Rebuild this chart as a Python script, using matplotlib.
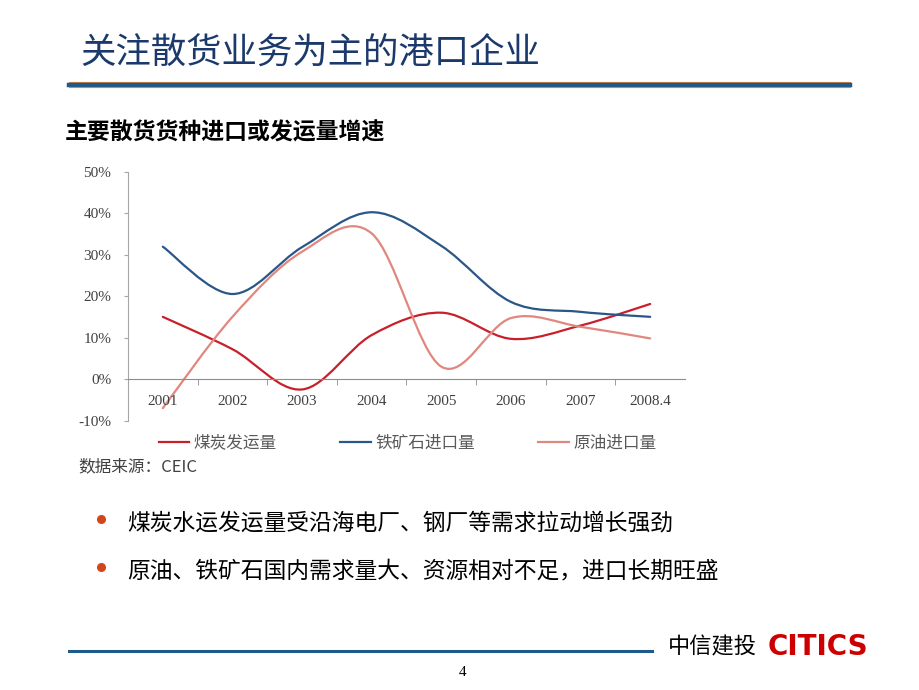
import numpy as np
import matplotlib
matplotlib.use("Agg")
import matplotlib.pyplot as plt
from matplotlib.path import Path
from matplotlib.patches import PathPatch
from matplotlib.lines import Line2D
import matplotlib.ticker as mtick

plt.rcParams['font.family'] = ['Noto Sans CJK SC', 'DejaVu Sans']
plt.rcParams['axes.unicode_minus'] = False

# data (growth rates)
years = ['2001', '2002', '2003', '2004', '2005', '2006', '2007', '2008.4']
coal = [0.151, 0.073, -0.024, 0.107, 0.161, 0.098, 0.130, 0.182]
iron = [0.320, 0.206, 0.319, 0.403, 0.322, 0.187, 0.163, 0.151]
oil = [-0.069, 0.151, 0.308, 0.352, 0.031, 0.148, 0.127, 0.099]
names = ['煤炭发运量', '铁矿石进口量', '原油进口量']
colors = ['#C8202A', '#2A5688', '#E0877F']

W, H = 920, 690
fig = plt.figure(figsize=(9.2, 6.9), dpi=100)


def fx(x):
    return x / W


def fy(y):
    return 1 - y / H


def smooth(xs, ys):
    # excel-like smoothed line: cubic bezier through the points
    n = len(xs)
    verts = [(xs[0], ys[0])]
    codes = [Path.MOVETO]
    for i in range(n - 1):
        a = max(i - 1, 0)
        d = min(i + 2, n - 1)
        c1 = (xs[i] + (xs[i + 1] - xs[a]) / 6, ys[i] + (ys[i + 1] - ys[a]) / 6)
        c2 = (xs[i + 1] - (xs[d] - xs[i]) / 6, ys[i + 1] - (ys[d] - ys[i]) / 6)
        verts += [c1, c2, (xs[i + 1], ys[i + 1])]
        codes += [Path.CURVE4] * 3
    return Path(verts, codes)


# title + header rule
fig.text(fx(80), fy(54), '关注散货业务为主的港口企业', fontsize=25.5, color='#1B3A6B',
         va='center', ha='left', fontweight='light')
fig.add_artist(Line2D([fx(69), fx(850)], [fy(82.3), fy(82.3)], color='#D8853A', lw=0.8))
fig.add_artist(Line2D([fx(69), fx(850)], [fy(84.5), fy(84.5)], color='#1F5A8C', lw=3.2))
fig.add_artist(Line2D([fx(69), fx(850)], [fy(86.8), fy(86.8)], color='#D8853A', lw=0.8))

fig.text(fx(65), fy(133), '主要散货货种进口或发运量增速', fontsize=16.5, fontweight='bold',
         color='black', va='center', ha='left')

# chart
ax = fig.add_axes([fx(128), fy(421), (685 - 128) / W, (421 - 172) / H])
x = np.arange(len(years))
for vals, c, nm in zip([coal, iron, oil], colors, names):
    ax.add_patch(PathPatch(smooth(x, vals), facecolor='none', edgecolor=c, lw=1.6,
                           capstyle='round'))
ax.set_xlim(-0.5, len(years) - 0.5)
ax.set_ylim(-0.10, 0.50)
ax.yaxis.set_major_locator(mtick.MultipleLocator(0.10))
ax.yaxis.set_major_formatter(mtick.PercentFormatter(1.0, decimals=0))
ax.set_xticks(x)
ax.set_xticklabels(years)
ax.set_xticks(np.arange(0.5, len(years) - 0.5, 1.0), minor=True)

for s in ['top', 'right']:
    ax.spines[s].set_visible(False)
ax.spines['bottom'].set_position(('data', 0))
ax.spines['bottom'].set_color('#8C8C8C')
ax.spines['left'].set_color('#A6A6A6')
ax.tick_params(axis='x', which='major', length=0, pad=11)
ax.tick_params(axis='x', which='minor', length=4, color='#8C8C8C', direction='out')
ax.tick_params(axis='y', length=3, color='#A6A6A6', pad=9)
for lab in ax.get_xticklabels() + ax.get_yticklabels():
    lab.set_family(['Liberation Serif', 'DejaVu Serif'])
    lab.set_fontsize(11)
    lab.set_color('#404040')

handles = [Line2D([], [], color=c, lw=1.6) for c in colors]
fig.legend(handles, names, loc='center', bbox_to_anchor=(fx(407.5), fy(443)), ncol=3,
           frameon=False, fontsize=12, handlelength=1.85, handletextpad=0.25,
           columnspacing=3.8, labelcolor='#595959')

fig.text(fx(78), fy(467), '数据来源：CEIC', fontsize=12, style='italic', color='#404040',
         va='center', ha='left')

# bullets
bullets = ['煤炭水运发运量受沿海电厂、钢厂等需求拉动增长强劲',
           '原油、铁矿石国内需求量大、资源相对不足，进口长期旺盛']
for yy, txt in zip([523, 571], bullets):
    fig.add_artist(Line2D([fx(101)], [fy(yy - 4)], marker='o', markersize=5.5,
                          color='#D2461C', lw=0))
    fig.text(fx(127), fy(yy), txt, fontsize=16.4, fontweight='medium', color='black',
             va='center', ha='left')

# footer
fig.add_artist(Line2D([fx(69), fx(652)], [fy(651), fy(651)], color='#1F5A8C', lw=2.2))
fig.text(fx(668), fy(647), '中信建投', fontsize=16, color='black', va='center', ha='left')
fig.text(fx(768), fy(647), 'CITICS', fontsize=20, fontweight='heavy', color='#CC0000',
         family='DejaVu Sans', va='center', ha='left')
fig.text(fx(463), fy(673), '4', fontsize=11, family='Liberation Serif', color='black',
         va='center', ha='center')

fig.savefig('out.png', dpi=100)
